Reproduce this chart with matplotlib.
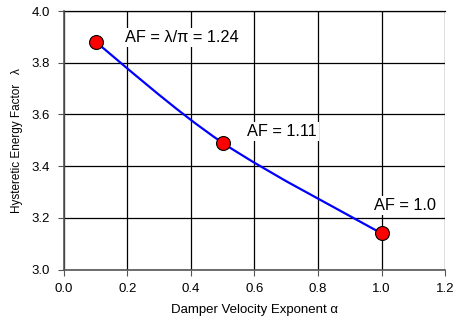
import matplotlib
matplotlib.use("Agg")
import matplotlib.pyplot as plt
from matplotlib.path import Path
from matplotlib.patches import PathPatch

# datos
alpha = [0.1, 0.5, 1.0]
lam = [3.88, 3.49, 3.14]
etiquetas = ["AF = λ/π = 1.24", "AF = 1.11", "AF = 1.0"]
pos_etiquetas = [(0.372, 3.897), (0.687, 3.533), (1.074, 3.247)]

xticks = [0.0, 0.2, 0.4, 0.6, 0.8, 1.0, 1.2]
yticks = [3.0, 3.2, 3.4, 3.6, 3.8, 4.0]

plt.rcParams["font.family"] = ["Liberation Sans", "DejaVu Sans"]

fig = plt.figure(figsize=(4.61, 3.24), dpi=100)
ax = fig.add_axes([0.1388, 0.168, 0.8265, 0.798])

# curva suavizada tipo Excel (Bezier Catmull-Rom)
pts = list(zip(alpha, lam))
verts = [pts[0]]
codes = [Path.MOVETO]
n = len(pts)
for i in range(n - 1):
    p0 = pts[max(i - 1, 0)]
    p1 = pts[i]
    p2 = pts[i + 1]
    p3 = pts[min(i + 2, n - 1)]
    c1 = (p1[0] + (p2[0] - p0[0]) / 6, p1[1] + (p2[1] - p0[1]) / 6)
    c2 = (p2[0] - (p3[0] - p1[0]) / 6, p2[1] - (p3[1] - p1[1]) / 6)
    verts += [c1, c2, p2]
    codes += [Path.CURVE4] * 3
ax.add_patch(PathPatch(Path(verts, codes), facecolor="none", edgecolor="#0000ff", lw=1.6, zorder=3))

ax.plot(alpha, lam, "o", ms=10, mfc="#ff0000", mec="black", mew=0.8, zorder=4)

for txt, (x, y) in zip(etiquetas, pos_etiquetas):
    ax.text(x, y, txt, fontsize=11.8, ha="center", va="center", zorder=2,
            bbox=dict(facecolor="white", edgecolor="none", pad=1.5))

ax.set_xlim(0, 1.2)
ax.set_ylim(3.0, 4.0)
ax.set_xticks(xticks)
ax.set_yticks(yticks)
ax.set_xticklabels([f"{v:.1f}" for v in xticks])
ax.set_yticklabels([f"{v:.1f}" for v in yticks])
ax.tick_params(direction="out", length=4, labelsize=9.5, colors="black", pad=6)
ax.tick_params(axis="x", color="#555555")
ax.tick_params(axis="y", color="#555555")

ax.grid(True, color="black", lw=0.9, zorder=1)
ax.set_axisbelow(True)
for s in ["top", "right"]:
    ax.spines[s].set_visible(False)
for s in ["left", "bottom"]:
    ax.spines[s].set_color("#555555")
    ax.spines[s].set_linewidth(1.2)
ax.axhline(4.0, color="black", lw=0.9, zorder=1, clip_on=False)

ax.set_xlabel("Damper Velocity Exponent α", fontsize=9.5, labelpad=6)
ax.set_ylabel("Hysteretic Energy Factor   λ", fontsize=8.5, labelpad=6)

plt.savefig("out.png", dpi=100)
plt.close()
